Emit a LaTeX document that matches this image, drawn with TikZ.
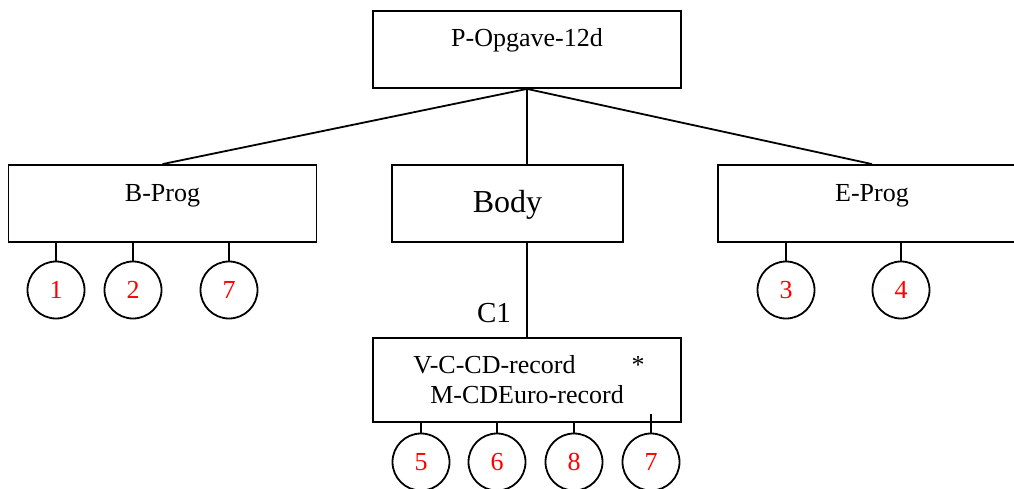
\documentclass[tikz,border=0pt]{standalone}
\usepackage{fontspec}
\setmainfont{Liberation Serif}
\begin{document}
\begin{tikzpicture}[x=1pt,y=-1pt]
\tikzstyle{prog} = [draw,line width=1.8,minimum width=308,inner sep=0,text height=36pt,text depth=41pt,font=\fontsize{26}{30}\selectfont];
\tikzstyle{body} = [draw,line width=1.8,minimum width=231,inner sep=0,text height=47pt,text depth=30pt,font=\fontsize{32}{36}\selectfont];
\tikzstyle{rec} = [draw,line width=1.8,minimum width=308,minimum height=84,inner sep=0];
\tikzstyle{txt} = [anchor=base,inner sep=0,font=\fontsize{26}{30}\selectfont];
\tikzstyle{leaf} = [draw,circle,line width=1.8,minimum size=57,inner sep=0,text=red,font=\fontsize{26}{30}\selectfont];
\tikzstyle{arr} = [line width=1.8];
\clip (0,0) rectangle (1014,489);
\node [prog] (v1) at (527,49.5) {P-Opgave-12d};
\node [prog] (v2) at (162.5,203.5) {B-Prog};
\node [body] (v3) at (507.5,203.5) {Body};
\node [prog] (v4) at (872,203.5) {E-Prog};
\node [rec] (v5) at (527,380) {};
\node [txt] (t1) at (494.5,373) {V-C-CD-record};
\node [txt] (t2) at (527,403) {M-CDEuro-record};
\node [txt] (t3) at (638,373) {*};
\node [txt,font=\fontsize{29}{33}\selectfont] (c1) at (494,322) {C1};

\node [leaf] (b1) at (56,290) {1};
\node [leaf] (b2) at (133,290) {2};
\node [leaf] (b7) at (229,290) {7};
\node [leaf] (e3) at (786,290) {3};
\node [leaf] (e4) at (901,290) {4};
\node [leaf] (r5) at (421,462) {5};
\node [leaf] (r6) at (497,462) {6};
\node [leaf] (r8) at (574,462) {8};
\node [leaf] (r7) at (651,462) {7};
\coordinate (p7) at (651,414);

\draw [arr] (v1.south) -- (v2.north);
\draw [arr] (v1.south) -- (v1.south |- v3.north);
\draw [arr] (v1.south) -- (v4.north);
\draw [arr] (v5.north) -- (v5.north |- v3.south);
\draw [arr] (b1.north) -- (b1.north |- v2.south);
\draw [arr] (b2.north) -- (b2.north |- v2.south);
\draw [arr] (b7.north) -- (b7.north |- v2.south);
\draw [arr] (e3.north) -- (e3.north |- v4.south);
\draw [arr] (e4.north) -- (e4.north |- v4.south);
\draw [arr] (r5.north) -- (r5.north |- v5.south);
\draw [arr] (r6.north) -- (r6.north |- v5.south);
\draw [arr] (r8.north) -- (r8.north |- v5.south);
\draw [arr] (r7.north) -- (p7);
\end{tikzpicture}
\end{document}
